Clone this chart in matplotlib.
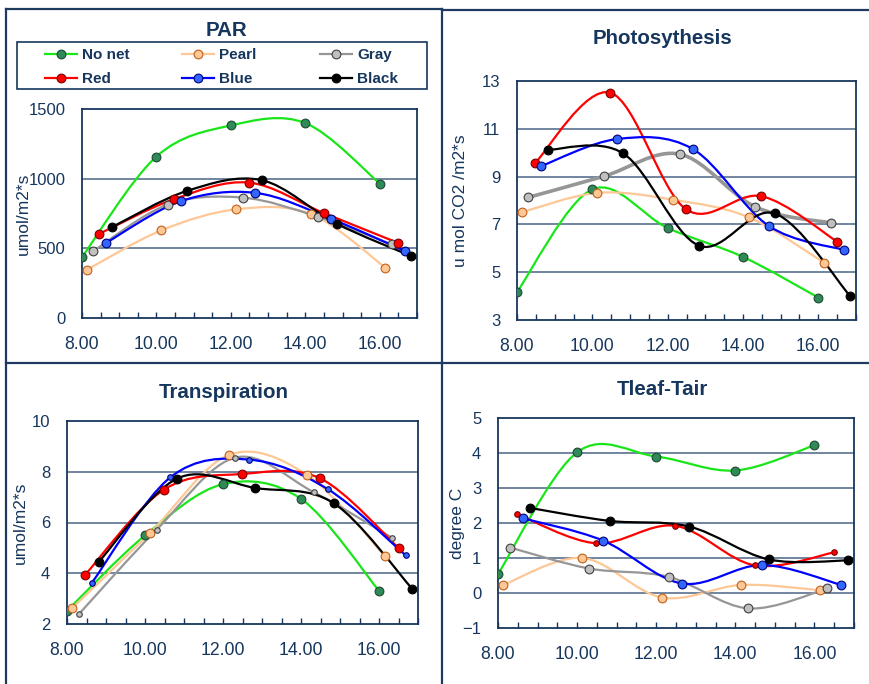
import numpy as np
import matplotlib.pyplot as plt
from matplotlib.path import Path
from matplotlib.patches import PathPatch, Rectangle
from matplotlib.lines import Line2D

plt.rcParams['font.family'] = ['Liberation Sans', 'DejaVu Sans']

# Series names and measurement times (hours)
series = ['No net', 'Pearl', 'Gray', 'Red', 'Blue', 'Black']
times = [
    [8.0, 10.0, 12.0, 14.0, 16.0],
    [8.13, 10.13, 12.15, 14.15, 16.15],
    [8.3, 10.3, 12.32, 14.33, 16.33],
    [8.47, 10.48, 12.48, 14.49, 16.5],
    [8.64, 10.65, 12.66, 14.68, 16.68],
    [8.81, 10.82, 12.83, 14.84, 16.85],
]

# Values per panel, rows in series order
par = [
    [437, 1159, 1382, 1399, 965],
    [346, 629, 780, 746, 362],
    [480, 814, 864, 727, 528],
    [605, 854, 972, 754, 538],
    [538, 838, 898, 713, 480],
    [653, 912, 989, 677, 444],
]
photo = [
    [4.17, 8.47, 6.85, 5.64, 3.94],
    [7.51, 8.32, 8.03, 7.30, 5.40],
    [8.13, 9.01, 9.94, 7.73, 7.06],
    [9.55, 12.51, 7.64, 8.18, 6.28],
    [9.44, 10.57, 10.16, 6.94, 5.93],
    [10.12, 9.97, 6.11, 7.46, 3.99],
]
transp = [
    [2.52, 5.49, 7.51, 6.93, 3.31],
    [2.62, 5.59, 8.66, 7.88, 4.68],
    [2.38, 5.72, 8.56, 7.19, 5.40],
    [3.95, 7.29, 7.91, 7.74, 5.00],
    [3.63, 7.78, 8.48, 7.32, 4.71],
    [4.44, 7.73, 7.36, 6.76, 3.39],
]
tleaf = [
    [0.54, 4.02, 3.90, 3.50, 4.22],
    [0.23, 1.00, -0.13, 0.23, 0.08],
    [1.30, 0.70, 0.46, -0.44, 0.13],
    [2.26, 1.42, 1.92, 0.79, 1.16],
    [2.13, 1.50, 0.27, 0.80, 0.23],
    [2.43, 2.06, 1.90, 0.96, 0.93],
]

# Styles
line_colors = ['#19e619', '#fdc796', '#969696', '#ff0000', '#0000ff', '#000000']
face_colors = ['#2e8b57', '#fdc896', '#c0c0c0', '#ff0000', '#3366ff', '#000000']
edge_colors = ['#1c4a30', '#c0601a', '#404040', '#7a0000', '#00007a', '#000000']
navy = '#17365d'
grid_c = '#4a6485'

W, H = 869, 684


def smooth_path(x, y):
    # Excel-like smoothed line (Catmull-Rom as cubic Bezier segments)
    pts = np.column_stack([x, y]).astype(float)
    verts = [pts[0]]
    codes = [Path.MOVETO]
    n = len(pts)
    for i in range(n - 1):
        p0 = pts[i - 1] if i > 0 else pts[i]
        p1 = pts[i]
        p2 = pts[i + 1]
        p3 = pts[i + 2] if i + 2 < n else pts[i + 1]
        verts += [p1 + (p2 - p0) / 6, p2 - (p3 - p1) / 6, p2]
        codes += [Path.CURVE4] * 3
    return Path(verts, codes)


def px_axes(l, t, r, b):
    return fig.add_axes([l / W, 1 - b / H, (r - l) / W, (b - t) / H])


fig = plt.figure(figsize=(W / 100, H / 100), dpi=100)
fig.patch.set_facecolor('white')

panels = [
    ('PAR', par, (82, 109, 417, 318), (0, 1500), 500, 'umol/m2*s', -0.152, (226, 36)),
    ('Photosythesis', photo, (517, 81, 856, 320), (3, 13), 2, 'u mol CO2 /m2*s', -0.145, (662, 44)),
    ('Transpiration', transp, (67, 421, 418, 624), (2, 10), 2, 'umol/m2*s', -0.111, (224, 398)),
    ('Tleaf-Tair', tleaf, (498, 418, 854, 628), (-1, 5), 1, 'degree C', -0.093, (662, 395)),
]
small = {('Transpiration', 'Gray'), ('Transpiration', 'Blue'), ('Tleaf-Tair', 'Red')}

for title, data, box, ylim, ystep, ylab, ylx, tpos in panels:
    ax = px_axes(*box)
    ax.set_xlim(8, 17)
    ax.set_ylim(*ylim)
    yt = np.arange(ylim[0], ylim[1] + ystep / 2, ystep)
    ax.set_yticks(yt)
    for v in yt[1:-1]:
        ax.axhline(v, color=grid_c, lw=1.1, zorder=1)
    ax.set_xticks([8, 10, 12, 14, 16])
    ax.set_xticks(np.arange(8, 17.01, 0.5), minor=True)
    ax.set_xticklabels(['8.00', '10.00', '12.00', '14.00', '16.00'])
    ax.tick_params(axis='x', which='both', direction='in', length=4, color=navy,
                   width=1, labelsize=12.7, labelcolor=navy, pad=13)
    ax.tick_params(axis='y', length=0, labelsize=12, labelcolor=navy, pad=12)
    for s in ax.spines.values():
        s.set_color(navy)
        s.set_linewidth(1.3)
    ax.set_ylabel(ylab, color=navy, fontsize=12.5)
    ax.yaxis.set_label_coords(ylx, 0.5)

    for i, name in enumerate(series):
        lw = 2.6 if (title == 'Photosythesis' and name == 'Gray') else 1.6
        ax.add_patch(PathPatch(smooth_path(times[i], data[i]), fill=False,
                               edgecolor=line_colors[i], lw=lw, zorder=2 + i))
        ms = 4 if (title, name) in small else 6.3
        ax.plot(times[i], data[i], linestyle='none', marker='o', ms=ms,
                mfc=face_colors[i], mec=edge_colors[i], mew=0.8, zorder=10 + i)

    fig.text(tpos[0] / W, 1 - tpos[1] / H, title, ha='center', va='baseline',
             fontsize=14.8, fontweight='bold', color=navy)

# Legend in the PAR panel: three columns of two entries inside one frame
handles = [Line2D([], [], color=line_colors[i], lw=1.6, marker='o', ms=6.3,
                  mfc=face_colors[i], mec=edge_colors[i], mew=0.8)
           for i in range(len(series))]
fig.add_artist(Rectangle((17 / W, 1 - 89 / H), 410 / W, 47 / H, fill=False,
                         edgecolor=navy, lw=1.2, transform=fig.transFigure))
col_x = [45, 182, 320]
columns = [[0, 3], [1, 4], [2, 5]]
for cx, idx in zip(col_x, columns):
    leg = fig.legend([handles[i] for i in idx], [series[i] for i in idx],
                     loc='upper left', bbox_to_anchor=(cx / W, 1 - 48 / H),
                     frameon=False, borderpad=0, borderaxespad=0,
                     handlelength=2.1, handletextpad=0.33, labelspacing=0.68,
                     prop={'weight': 'bold', 'size': 11})
    for t in leg.get_texts():
        t.set_color(navy)

# Panel border lines
def fig_line(x0, y0, x1, y1):
    fig.add_artist(Line2D([x0 / W, x1 / W], [1 - y0 / H, 1 - y1 / H],
                          color='#1f3a5f', lw=1.6, transform=fig.transFigure))

fig_line(6, 9, 442, 9)
fig_line(442, 10, 869, 10)
fig_line(6, 9, 6, 684)
fig_line(442, 9, 442, 684)
fig_line(6, 363, 869, 363)

fig.savefig('out.png', dpi=100)
